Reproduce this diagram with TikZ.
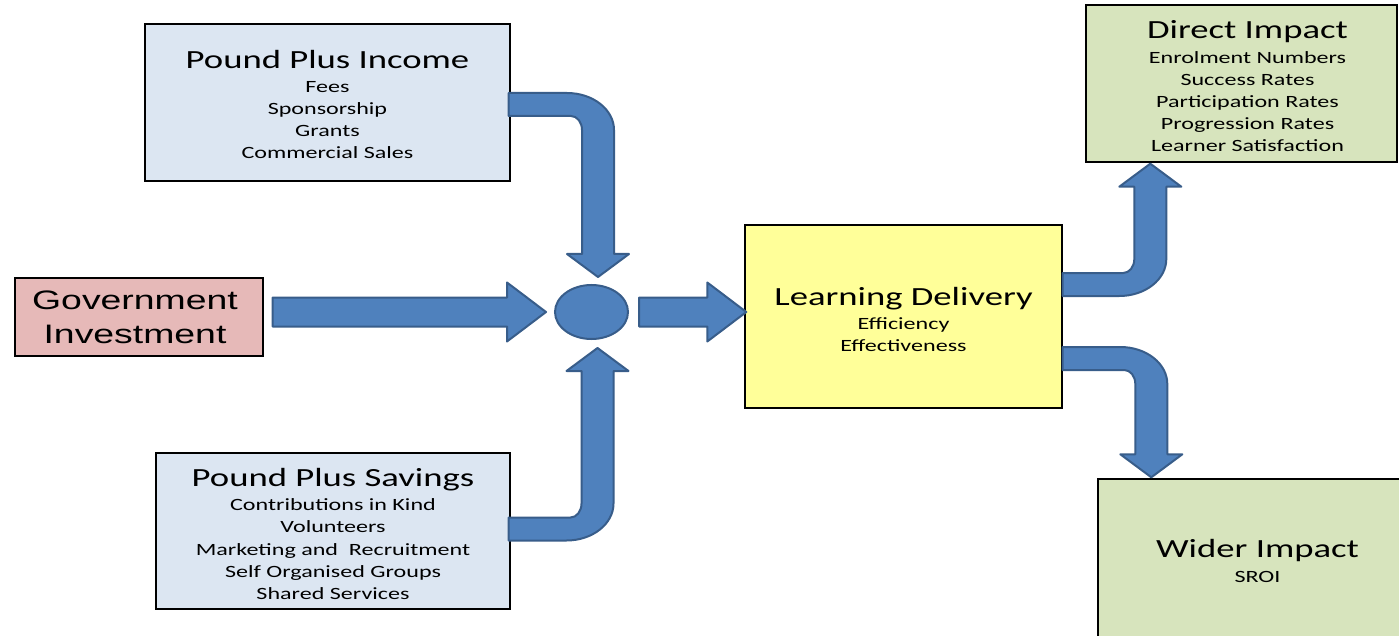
\documentclass[tikz,border=0pt]{standalone}
\usepackage{fontspec}
\newfontfamily\calib[FakeStretch=1.40]{Carlito}
\newfontfamily\arialf[FakeStretch=1.40]{Liberation Sans}
\usetikzlibrary{calc,shapes.geometric}
\definecolor{arrfill}{HTML}{4F81BD}
\definecolor{arrline}{HTML}{385D8A}
\definecolor{boxblue}{HTML}{DCE6F2}
\definecolor{boxpink}{HTML}{E6B9B8}
\definecolor{boxyellow}{HTML}{FFFF99}
\definecolor{boxgreen}{HTML}{D7E4BD}
\newcommand\titl[1]{{\fontsize{26.2}{26}\selectfont #1}\\[2pt]}
\newcommand\bentarrow[3]{%
 \draw[blockarrow] ($(#1)+(0,{-11.5*(#3)})$)
  -- ($(#2 |- #1)+(-31,{-11.5*(#3)})$)
  .. controls ($(#2 |- #1)+(-5,{-11.5*(#3)})$) and ($(#2 |- #1)+(16,{5.1*(#3)})$) .. ($(#2 |- #1)+(16,{25.5*(#3)})$)
  -- ($(#2)+(16,{-23*(#3)})$) -- ($(#2)+(31,{-23*(#3)})$) -- (#2)
  -- ($(#2)+(-31,{-23*(#3)})$) -- ($(#2)+(-16,{-23*(#3)})$)
  -- ($(#2 |- #1)+(-16,{25.5*(#3)})$)
  .. controls ($(#2 |- #1)+(-16,{17.8*(#3)})$) and ($(#2 |- #1)+(-20.9,{11.5*(#3)})$) .. ($(#2 |- #1)+(-27,{11.5*(#3)})$)
  -- ($(#1)+(0,{11.5*(#3)})$) -- cycle;}
\newcommand\straightarrow[2]{%
 \draw[blockarrow] ($(#1)+(0,-14.5)$) -- ($(#2)+(-39,-14.5)$) -- ($(#2)+(-39,-29.5)$)
  -- (#2) -- ($(#2)+(-39,29.5)$) -- ($(#2)+(-39,14.5)$) -- ($(#1)+(0,14.5)$) -- cycle;}
\begin{document}
\begin{tikzpicture}[x=1pt,y=-1pt,
  box/.style={draw=black, line width=1.4pt, inner sep=0pt},
  txt/.style={inner sep=0pt, align=center, font=\calib\fontsize{17.2}{22.2}\selectfont},
  blockarrow/.style={fill=arrfill, draw=arrline, line width=2pt, line join=round}]
\useasboundingbox (0,0) rectangle (1399,636);
\clip (0,0) rectangle (1399,636);
\fill[white] (0,0) rectangle (1399,636);
% boxes
\node[box, fill=boxblue, minimum width=365, minimum height=157] (inc) at (327.5,102.5) {};
\node[box, fill=boxpink, minimum width=248, minimum height=78] (gov) at (139,317) {};
\node[box, fill=boxblue, minimum width=354, minimum height=156] (sav) at (333,531) {};
\node[ellipse, fill=arrfill, draw=arrline, line width=2pt, minimum width=73, minimum height=54, inner sep=0pt] (hub) at (591.5,312) {};
\node[box, fill=boxyellow, minimum width=317, minimum height=183] (ld) at (903.5,316.5) {};
\node[box, fill=boxgreen, minimum width=311, minimum height=157] (di) at (1241.5,83.5) {};
\node[box, fill=boxgreen, minimum width=319, minimum height=158] (wi) at (1257.5,558) {};
% texts
\node[txt] (inc-t) at ($(inc.center)+(0,2)$)
  {\titl{Pound Plus Income}Fees\\Sponsorship\\Grants\\Commercial Sales};
\node[txt, font=\arialf\fontsize{26.7}{34}\selectfont] (gov-t) at ($(gov.center)+(-4,0)$) {Government\\Investment};
\node[txt] (sav-t) at ($(sav.center)+(0,3)$)
  {\titl{Pound Plus Savings}Contributions in Kind\\Volunteers\\Marketing and~ Recruitment\\Self Organised Groups\\Shared Services};
\node[txt] (ld-t) at ($(ld.center)+(0,3)$)
  {\titl{Learning Delivery}Efficiency\\Effectiveness};
\node[txt] (di-t) at ($(di.center)+(6,3)$)
  {\titl{Direct Impact}Enrolment Numbers\\Success Rates\\Participation Rates\\Progression Rates\\Learner Satisfaction};
\node[txt] (wi-t) at ($(wi.center)+(0,3)$)
  {\titl{Wider Impact}SROI};
% arrow anchors
\coordinate (g1) at ($(gov.east |- hub.west)+(9,0)$);
\coordinate (g2) at ($(hub.west)+(-8,0)$);
\coordinate (h1) at ($(hub.east)+(10,0)$);
\coordinate (h2) at ($(ld.west |- hub.east)+(2,0)$);
\coordinate (i1) at ($(inc.east)+(-2,2)$);
\coordinate (i2) at ($(hub.north)+(6.5,-7)$);
\coordinate (s1) at ($(sav.east)+(-2,-2)$);
\coordinate (s2) at ($(hub.south)+(6,8)$);
\coordinate (d1) at ($(ld.east)+(0,-32)$);
\coordinate (d2) at ($(di.south west)+(65,1)$);
\coordinate (w1) at ($(ld.east)+(0,42)$);
\coordinate (w2) at ($(wi.north west)+(54,-1)$);
\straightarrow{g1}{g2}
\straightarrow{h1}{h2}
\bentarrow{i1}{i2}{1}
\bentarrow{s1}{s2}{-1}
\bentarrow{d1}{d2}{-1}
\bentarrow{w1}{w2}{1}
\end{tikzpicture}
\end{document}
